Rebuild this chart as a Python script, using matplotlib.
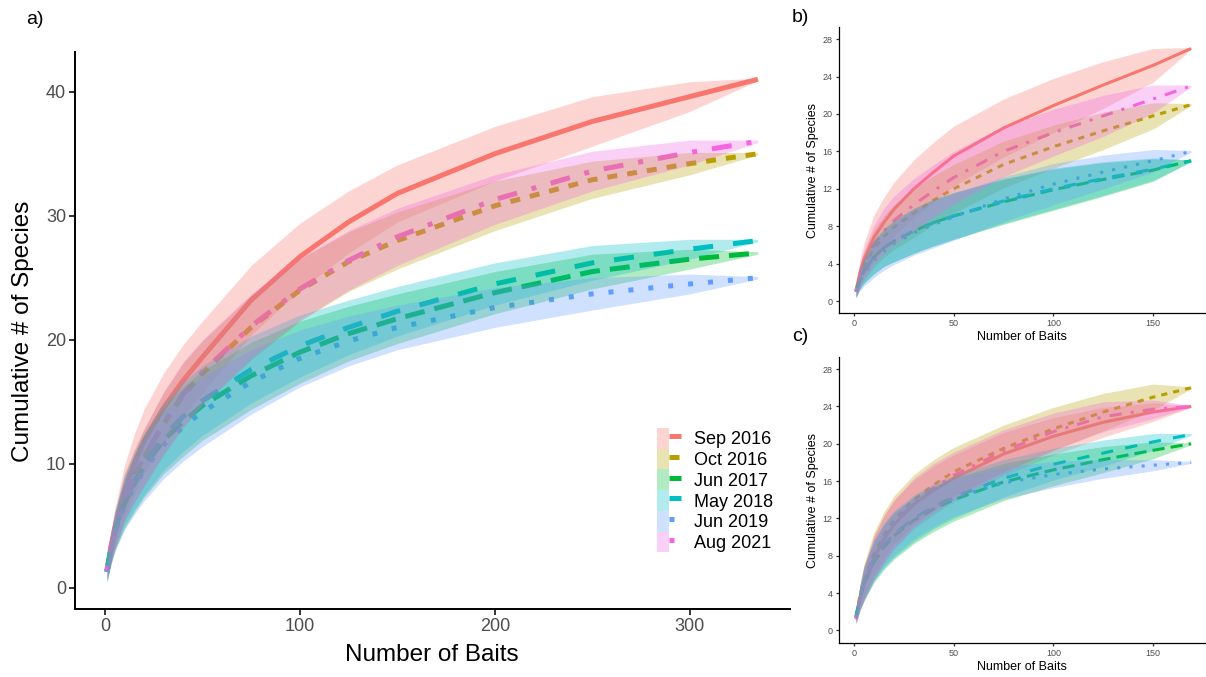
import matplotlib
matplotlib.use("Agg")
import matplotlib.pyplot as plt
from matplotlib.patches import Patch
from matplotlib.lines import Line2D
from matplotlib.legend_handler import HandlerTuple

plt.rcParams['font.family'] = ['Liberation Sans', 'DejaVu Sans']

# ---------------- data ----------------
series = ["Sep 2016", "Oct 2016", "Jun 2017", "May 2018", "Jun 2019", "Aug 2021"]
colors = ["#F8766D", "#B79F00", "#00BA38", "#00BFC4", "#619CFF", "#F564E3"]
linestyles = [(0, ()), (0, (2, 2)), (0, (4, 2)), (0, (4, 4)), (0, (1, 3)), (0, (1, 3, 4, 3))]

# Panel a
xa = [1, 3, 5, 10, 15, 20, 30, 40, 50, 75, 100, 125, 150, 200, 250, 300, 335]
a_sep16 = [1.4, 3.3, 4.8, 7.8, 10.0, 11.8, 14.5, 16.7, 18.6, 23.2, 26.7, 29.5, 31.8, 35.0, 37.6, 39.6, 41.0]
a_oct16 = [1.4, 3.2, 4.6, 7.3, 9.0, 10.5, 13.2, 15.5, 17.3, 21.0, 24.0, 26.3, 28.0, 30.8, 32.9, 34.2, 35.0]
a_jun17 = [1.3, 3.1, 4.5, 6.8, 8.4, 9.8, 11.9, 13.4, 14.7, 17.1, 19.0, 20.5, 21.7, 23.8, 25.5, 26.5, 27.0]
a_may18 = [1.3, 3.1, 4.6, 7.0, 8.6, 10.0, 12.2, 13.8, 15.1, 17.6, 19.5, 21.0, 22.3, 24.5, 26.2, 27.3, 28.0]
a_jun19 = [1.3, 3.0, 4.4, 6.7, 8.2, 9.5, 11.5, 13.0, 14.2, 16.6, 18.5, 19.9, 21.0, 22.6, 23.7, 24.5, 25.0]
a_aug21 = [1.4, 3.2, 4.6, 7.3, 9.0, 10.5, 13.3, 15.6, 17.4, 21.1, 24.1, 26.4, 28.3, 31.3, 33.6, 35.1, 36.0]
# ribbon half-widths, panel a
aw_sep16 = [0.9, 1.3, 1.6, 2.1, 2.4, 2.6, 2.8, 2.9, 2.9, 2.8, 2.7, 2.5, 2.3, 2.2, 2.0, 1.2, 0.1]
aw_oct16 = [0.8, 1.2, 1.5, 1.9, 2.1, 2.3, 2.5, 2.6, 2.6, 2.6, 2.5, 2.4, 2.3, 2.0, 1.5, 0.9, 0.1]
aw_jun17 = [0.8, 1.2, 1.5, 2.0, 2.3, 2.5, 2.7, 2.8, 2.8, 2.7, 2.5, 2.2, 2.0, 1.7, 1.4, 0.8, 0.1]
aw_may18 = [0.8, 1.2, 1.5, 2.0, 2.3, 2.5, 2.7, 2.8, 2.8, 2.7, 2.5, 2.2, 2.0, 1.7, 1.4, 0.8, 0.1]
aw_jun19 = [0.8, 1.2, 1.5, 2.0, 2.3, 2.5, 2.7, 2.8, 2.8, 2.6, 2.3, 2.0, 1.8, 1.6, 1.3, 0.8, 0.1]
aw_aug21 = [0.8, 1.2, 1.5, 1.9, 2.1, 2.3, 2.5, 2.6, 2.6, 2.6, 2.5, 2.4, 2.3, 2.0, 1.6, 1.0, 0.1]

# Panel b
xb = [1, 3, 5, 10, 15, 20, 30, 40, 50, 75, 100, 125, 150, 169]
b_sep16 = [1.1, 3.0, 4.4, 6.8, 8.4, 9.8, 12.0, 13.8, 15.5, 18.5, 20.9, 23.1, 25.2, 27.0]
b_oct16 = [1.1, 2.6, 3.7, 5.6, 6.9, 7.9, 9.4, 10.8, 12.0, 14.6, 16.5, 18.2, 19.8, 21.0]
b_jun17 = [1.0, 2.3, 3.2, 4.7, 5.7, 6.4, 7.5, 8.4, 9.1, 10.6, 11.9, 13.0, 14.0, 15.0]
b_may18 = [1.0, 2.3, 3.2, 4.7, 5.7, 6.4, 7.5, 8.4, 9.1, 10.7, 12.0, 13.1, 14.1, 15.0]
b_jun19 = [1.0, 2.1, 2.9, 4.3, 5.3, 6.1, 7.3, 8.2, 9.0, 10.9, 12.5, 13.8, 15.0, 16.0]
b_aug21 = [1.1, 2.7, 3.9, 6.0, 7.5, 8.6, 10.3, 11.8, 13.2, 16.0, 18.0, 19.8, 21.6, 23.0]
bw_sep16 = [0.8, 1.4, 1.8, 2.4, 2.7, 2.9, 3.1, 3.2, 3.2, 3.1, 2.9, 2.5, 1.8, 0.1]
bw_oct16 = [0.7, 1.2, 1.5, 2.0, 2.2, 2.4, 2.6, 2.6, 2.6, 2.5, 2.3, 2.0, 1.4, 0.1]
bw_jun17 = [0.6, 1.0, 1.3, 1.8, 2.0, 2.2, 2.4, 2.5, 2.5, 2.4, 2.2, 1.8, 1.2, 0.1]
bw_may18 = [0.6, 1.0, 1.3, 1.8, 2.0, 2.2, 2.4, 2.5, 2.5, 2.4, 2.2, 1.8, 1.2, 0.1]
bw_jun19 = [0.6, 1.0, 1.3, 1.8, 2.0, 2.2, 2.4, 2.5, 2.5, 2.4, 2.2, 1.8, 1.2, 0.1]
bw_aug21 = [0.7, 1.3, 1.6, 2.1, 2.4, 2.6, 2.8, 2.8, 2.8, 2.7, 2.5, 2.2, 1.5, 0.1]

# Panel c
xc = [1, 3, 5, 10, 15, 20, 30, 40, 50, 75, 100, 125, 150, 169]
c_sep16 = [1.3, 3.5, 5.0, 7.8, 9.7, 11.3, 13.5, 15.0, 16.3, 18.9, 20.8, 22.3, 23.4, 24.0]
c_oct16 = [1.5, 3.7, 5.3, 8.2, 10.2, 11.8, 14.0, 15.6, 17.0, 19.5, 21.6, 23.4, 25.0, 26.0]
c_jun17 = [1.4, 3.4, 4.9, 7.3, 8.9, 10.1, 11.8, 13.0, 14.0, 15.9, 17.2, 18.3, 19.3, 20.0]
c_may18 = [1.4, 3.5, 5.0, 7.5, 9.1, 10.3, 12.0, 13.3, 14.3, 16.3, 17.8, 19.0, 20.2, 21.0]
c_jun19 = [1.4, 3.5, 5.0, 7.5, 9.1, 10.3, 12.0, 13.2, 14.2, 15.8, 16.7, 17.3, 17.7, 18.0]
c_aug21 = [1.2, 3.4, 5.0, 7.8, 9.8, 11.4, 13.7, 15.3, 16.6, 19.2, 21.3, 22.9, 23.7, 24.0]
cw_sep16 = [0.6, 1.3, 1.8, 2.3, 2.5, 2.6, 2.6, 2.6, 2.5, 2.3, 2.0, 1.6, 1.0, 0.1]
cw_oct16 = [0.6, 1.3, 1.8, 2.3, 2.5, 2.6, 2.7, 2.7, 2.6, 2.5, 2.3, 2.0, 1.4, 0.1]
cw_jun17 = [0.6, 1.3, 1.8, 2.2, 2.4, 2.5, 2.5, 2.4, 2.3, 2.0, 1.7, 1.4, 0.9, 0.1]
cw_may18 = [0.6, 1.3, 1.8, 2.2, 2.4, 2.5, 2.5, 2.4, 2.3, 2.0, 1.7, 1.4, 0.9, 0.1]
cw_jun19 = [0.6, 1.3, 1.7, 2.1, 2.2, 2.3, 2.2, 2.1, 2.0, 1.7, 1.4, 1.0, 0.6, 0.1]
cw_aug21 = [0.6, 1.3, 1.8, 2.3, 2.5, 2.6, 2.6, 2.6, 2.5, 2.3, 2.0, 1.6, 1.0, 0.1]

panel_a = (xa, [a_sep16, a_oct16, a_jun17, a_may18, a_jun19, a_aug21],
           [aw_sep16, aw_oct16, aw_jun17, aw_may18, aw_jun19, aw_aug21])
panel_b = (xb, [b_sep16, b_oct16, b_jun17, b_may18, b_jun19, b_aug21],
           [bw_sep16, bw_oct16, bw_jun17, bw_may18, bw_jun19, bw_aug21])
panel_c = (xc, [c_sep16, c_oct16, c_jun17, c_may18, c_jun19, c_aug21],
           [cw_sep16, cw_oct16, cw_jun17, cw_may18, cw_jun19, cw_aug21])

# ---------------- figure ----------------
W, H = 1206, 677
fig = plt.figure(figsize=(W / 100, H / 100), dpi=100)


def px_axes(l, t, r, b):
    return fig.add_axes([l / W, 1 - b / H, (r - l) / W, (b - t) / H])


def draw_panel(ax, data, lw):
    x, ys, ws = data
    for y, c, ls in zip(ys, colors, linestyles):
        ax.plot(x, y, color=c, lw=lw, linestyle=ls, zorder=2, solid_capstyle='butt',
                dash_capstyle='butt', solid_joinstyle='round')
    for y, w, c in zip(ys, ws, colors):
        lo = [v - d for v, d in zip(y, w)]
        hi = [v + d for v, d in zip(y, w)]
        ax.fill_between(x, lo, hi, color=c, alpha=0.3, lw=0, zorder=3)


def style(ax, spine_w, tick_fs, tick_len):
    for s in ["top", "right"]:
        ax.spines[s].set_visible(False)
    for s in ["left", "bottom"]:
        ax.spines[s].set_linewidth(spine_w)
        ax.spines[s].set_color("black")
    ax.tick_params(axis="both", which="major", labelsize=tick_fs, labelcolor="#4D4D4D",
                   color="#333333", width=spine_w, length=tick_len, pad=2)
    ax.set_facecolor("white")


# Panel a
axa = px_axes(75, 52, 790, 609)
draw_panel(axa, panel_a, 3.6)
axa.set_xlim(-15.4, 351.5)
axa.set_ylim(-1.7, 43.2)
axa.set_xticks([0, 100, 200, 300])
axa.set_yticks([0, 10, 20, 30, 40])
style(axa, 1.4, 13, 4.5)

# Panel b
axb = px_axes(839, 27, 1206, 313)
draw_panel(axb, panel_b, 2.2)
axb.set_xlim(-7.5, 176.5)
axb.set_ylim(-1.28, 29.3)
axb.set_xticks([0, 50, 100, 150])
axb.set_yticks(list(range(0, 29, 4)))
style(axb, 0.9, 6.5, 2.5)

# Panel c
axc = px_axes(839, 357, 1206, 643)
draw_panel(axc, panel_c, 2.2)
axc.set_xlim(-7.5, 176.5)
axc.set_ylim(-1.36, 29.3)
axc.set_xticks([0, 50, 100, 150])
axc.set_yticks(list(range(0, 29, 4)))
style(axc, 0.9, 6.5, 2.5)


def ftext(x, y, s, **kw):
    fig.text(x / W, 1 - y / H, s, **kw)


ftext(23, 331, "Cumulative # of Species", rotation=90, ha="center", va="center", fontsize=17.5)
ftext(432, 655, "Number of Baits", ha="center", va="center", fontsize=17.5)
ftext(813, 170, "Cumulative # of Species", rotation=90, ha="center", va="center", fontsize=9)
ftext(1022, 337, "Number of Baits", ha="center", va="center", fontsize=9)
ftext(813, 500, "Cumulative # of Species", rotation=90, ha="center", va="center", fontsize=9)
ftext(1022, 667, "Number of Baits", ha="center", va="center", fontsize=9)

ftext(35, 20, "a)", ha="center", va="center", fontsize=14)
ftext(800, 17, "b)", ha="center", va="center", fontsize=14)
ftext(800, 336, "c)", ha="center", va="center", fontsize=14)

# Legend
handles = []
for c, ls in zip(colors, linestyles):
    handles.append((Patch(facecolor=c, alpha=0.3, edgecolor="none"),
                    Line2D([], [], color=c, lw=3.6, linestyle=ls, dash_capstyle='butt')))
leg = axa.legend(handles, series, handler_map={tuple: HandlerTuple(ndivide=None, pad=0)},
                 loc="upper left", bbox_to_anchor=(657 / W, 1 - 428 / H),
                 bbox_transform=fig.transFigure, frameon=False, fontsize=13,
                 handlelength=1.33, handleheight=1.39, labelspacing=0.0,
                 handletextpad=0.72, borderpad=0, borderaxespad=0)

fig.savefig("out.png", dpi=100, facecolor="white")
